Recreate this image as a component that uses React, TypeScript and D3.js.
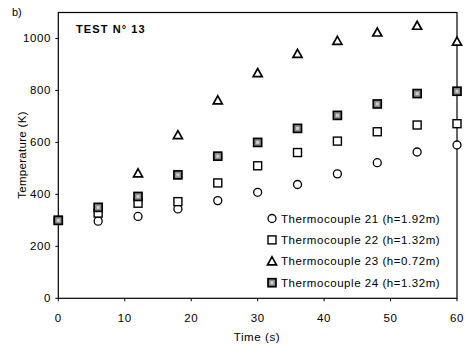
import React from "react";
import * as d3 from "d3";

const times = [0, 6, 12, 18, 24, 30, 36, 42, 48, 54, 60];
const tc21: (number | null)[] = [300, 297, 315, 344, 376, 408, 438, 479, 522, 563, 590];
const tc22: (number | null)[] = [300, 328, 366, 372, 444, 510, 561, 605, 641, 667, 672];
const tc23: (number | null)[] = [null, null, 481, 628, 762, 867, 941, 991, 1023, 1049, 988];
const tc24: (number | null)[] = [300, 350, 392, 475, 547, 600, 654, 704, 748, 788, 797];
const xTicks = [0, 10, 20, 30, 40, 50, 60];
const yTicks = [0, 200, 400, 600, 800, 1000];
const legendLabels = [
  "Thermocouple 21 (h=1.92m)",
  "Thermocouple 22 (h=1.32m)",
  "Thermocouple 23 (h=0.72m)",
  "Thermocouple 24 (h=1.32m)",
];

const FONT = "'Liberation Sans', Arial, sans-serif";

type Kind = "circle" | "square" | "triangle" | "filled";

function Marker({ kind, x, y }: { kind: Kind; x: number; y: number }) {
  if (kind === "circle")
    return <circle cx={x} cy={y} r={4} fill="#fff" stroke="#000" strokeWidth={1.3} />;
  if (kind === "square")
    return <rect x={x - 4} y={y - 4} width={8} height={8} fill="#fff" stroke="#000" strokeWidth={1.4} />;
  if (kind === "triangle")
    return (
      <path
        d={`M${x},${y - 4.5}L${x + 4.5},${y + 3.5}L${x - 4.5},${y + 3.5}Z`}
        fill="#fff"
        stroke="#000"
        strokeWidth={1.7}
        strokeLinejoin="miter"
      />
    );
  return (
    <g>
      <rect x={x - 4} y={y - 4} width={8} height={8} fill="#8c8c8c" stroke="#000" strokeWidth={1.7} />
      <rect x={x - 1.5} y={y - 1.5} width={3} height={3} fill="#cfcfcf" />
    </g>
  );
}

export default function App() {
  const left = 58.3, right = 457, top = 12.5, bottom = 298.3;
  const x = d3.scaleLinear().domain([0, 60]).range([left, right]);
  const y = d3.scaleLinear().domain([0, 1100]).range([bottom, top]);

  const series: { data: (number | null)[]; kind: Kind }[] = [
    { data: tc21, kind: "circle" },
    { data: tc22, kind: "square" },
    { data: tc23, kind: "triangle" },
    { data: tc24, kind: "filled" },
  ];
  const legendKinds: Kind[] = ["circle", "square", "triangle", "filled"];
  const legendY0 = 218.5, legendDy = 21.4;

  return (
    <svg
      width={471}
      height={345}
      style={{ position: "absolute", left: 0, top: 0, background: "#fff" }}
      fontFamily={FONT}
    >
      <rect x={0} y={0} width={471} height={345} fill="#fff" />
      <text x={12} y={16} fontSize={11}>b)</text>
      {/* frame */}
      <rect x={left} y={top} width={right - left} height={bottom - top} fill="none" stroke="#000" strokeWidth={1.2} />
      {/* y ticks */}
      {yTicks.map((t) => (
        <g key={"y" + t}>
          <line x1={left - 3} x2={left} y1={y(t)} y2={y(t)} stroke="#000" strokeWidth={1} />
          <text x={51} y={y(t) + 4} fontSize={11.5} textAnchor="end" letterSpacing={0.6}>
            {t}
          </text>
        </g>
      ))}
      {/* x ticks */}
      {xTicks.map((t) => (
        <g key={"x" + t}>
          <line x1={x(t)} x2={x(t)} y1={bottom} y2={bottom + 3} stroke="#000" strokeWidth={1} />
          <text x={x(t)} y={322} fontSize={11.5} textAnchor="middle" letterSpacing={0.6}>
            {t}
          </text>
        </g>
      ))}
      <text x={257} y={341} fontSize={11.5} textAnchor="middle" letterSpacing={0.6}>
        Time (s)
      </text>
      <text
        transform={`translate(26,${155}) rotate(-90)`}
        fontSize={11.5}
        textAnchor="middle"
        letterSpacing={0.3}
      >
        Temperature (K)
      </text>
      <text x={76} y={33} fontSize={11} fontWeight="bold" letterSpacing={1.1}>
        TEST N° 13
      </text>
      {/* points */}
      {series.map((s, si) =>
        s.data.map((v, i) =>
          v == null ? null : <Marker key={si + "-" + i} kind={s.kind} x={x(times[i])} y={y(v)} />
        )
      )}
      {/* legend */}
      {legendLabels.map((lab, i) => (
        <g key={"lg" + i}>
          <Marker kind={legendKinds[i]} x={272} y={legendY0 + i * legendDy} />
          <text x={281} y={legendY0 + i * legendDy + 4} fontSize={11.5} letterSpacing={0.55}>
            {lab}
          </text>
        </g>
      ))}
    </svg>
  );
}
